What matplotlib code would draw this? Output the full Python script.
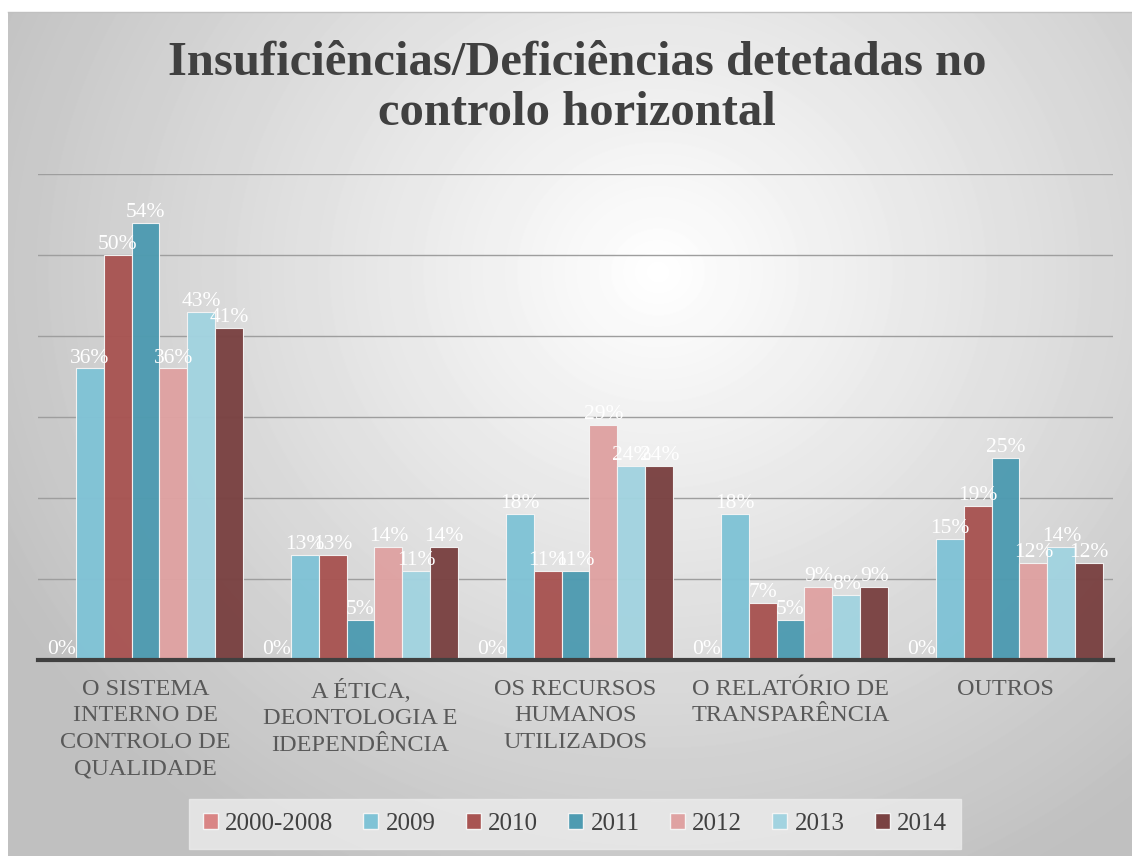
import numpy as np
import matplotlib
matplotlib.use("Agg")
import matplotlib.pyplot as plt
from matplotlib.patches import Patch

# ----- DATA -----
categories = ["O SISTEMA\nINTERNO DE\nCONTROLO DE\nQUALIDADE",
              "A ÉTICA,\nDEONTOLOGIA E\nIDEPENDÊNCIA",
              "OS RECURSOS\nHUMANOS\nUTILIZADOS",
              "O RELATÓRIO DE\nTRANSPARÊNCIA",
              "OUTROS"]
series = ["2000-2008", "2009", "2010", "2011", "2012", "2013", "2014"]
v_2000_2008 = [0, 0, 0, 0, 0]
v_2009 = [36, 13, 18, 18, 15]
v_2010 = [50, 13, 11, 7, 19]
v_2011 = [54, 5, 11, 5, 25]
v_2012 = [36, 14, 29, 9, 12]
v_2013 = [43, 11, 24, 8, 14]
v_2014 = [41, 14, 24, 9, 12]
values = [v_2000_2008, v_2009, v_2010, v_2011, v_2012, v_2013, v_2014]
colors = ["#d98585", "#80c3d6", "#a85452", "#4e9bb1", "#dfa2a2", "#a2d3e0", "#7a4242"]

W, H = 1132, 856
fig = plt.figure(figsize=(W / 100, H / 100), dpi=100)
fig.patch.set_facecolor("white")

# background: radial gradient panel
bg = fig.add_axes([8 / W, 0, 1 - 8 / W, 1 - 12 / H])
yy, xx = np.mgrid[0:H - 12, 0:W - 8]
d = np.sqrt(((xx - 650) / 780) ** 2 + ((yy - 260) / 720) ** 2)
shade = np.clip(1 - 0.26 * d, 0.75, 1)
bg.imshow(shade, cmap="gray", vmin=0, vmax=1, aspect="auto", interpolation="bilinear")
bg.axis("off")
fig.add_artist(plt.Line2D([8 / W, 1], [1 - 12 / H, 1 - 12 / H], color="#c0c0c0", lw=1))

serif = "Liberation Serif"

ax = fig.add_axes([38 / W, 196 / H, 1075 / W, 486 / H])
ax.patch.set_alpha(0)
n = len(series)
bw = 0.91 / n
x = np.arange(len(categories))
for i, (name, vals, c) in enumerate(zip(series, values, colors)):
    pos = x - 0.455 + bw * (i + 0.5)
    bars = ax.bar(pos, vals, bw, color=c, edgecolor="#f4f4f4", linewidth=0.8,
                  alpha=0.97, zorder=3, label=name)
    for b, v in zip(bars, vals):
        ax.text(b.get_x() + b.get_width() / 2, v + 0.1, f"{v}%", ha="center", va="bottom",
                color="white", fontsize=15.5, family=serif, zorder=5, clip_on=False)

ax.set_xlim(-0.5, len(categories) - 0.5)
ax.set_ylim(0, 60)
ax.set_yticks(np.arange(0, 61, 10))
ax.yaxis.grid(True, color="#9e9e9e", lw=1, zorder=0)
ax.tick_params(left=False, labelleft=False, bottom=False)
for s in ["top", "right", "left"]:
    ax.spines[s].set_visible(False)
ax.spines["bottom"].set_color("#404040")
ax.spines["bottom"].set_linewidth(3)
ax.spines["bottom"].set_zorder(6)
ax.set_xticks(x)
ax.set_xticklabels(categories, family=serif, fontsize=17.5, color="#595959",
                   linespacing=1.35, va="top")
ax.tick_params(axis="x", pad=10)

fig.text(0.51, 1 - 88 / H, "Insuficiências/Deficiências detetadas no\ncontrolo horizontal",
         ha="center", va="center", family=serif, fontweight="bold", fontsize=35,
         color="#404040", linespacing=1.17)

handles = [Patch(facecolor=c, edgecolor="#f4f4f4", label=s) for s, c in zip(series, colors)]
leg = fig.legend(handles=handles, loc="center", bbox_to_anchor=(575 / W, 1 - 824 / H),
                 ncol=7, frameon=True, fancybox=False, prop={"family": serif, "size": 18},
                 handlelength=0.6, handleheight=0.6, handletextpad=0.3, columnspacing=1.2,
                 borderpad=0.55)
leg.get_frame().set_facecolor("#ececec")
leg.get_frame().set_edgecolor("#ececec")
for t in leg.get_texts():
    t.set_color("#404040")

fig.savefig("out.png", dpi=100, facecolor=fig.get_facecolor())
